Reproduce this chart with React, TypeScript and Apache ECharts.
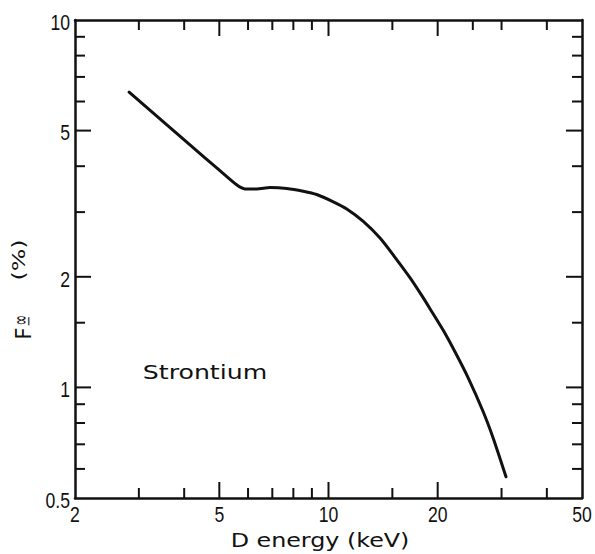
import React, { useEffect, useRef } from "react";
import * as echarts from "echarts";

// Axis ranges (log–log)
const X_MIN = 2;
const X_MAX = 50;
const Y_MIN = 0.5;
const Y_MAX = 10;

// Curve: deuteron energy (keV) vs F-infinity (%)
const energyKeV = [
  2.82, 4.15, 5.02, 5.58, 5.88, 6.34, 6.9, 7.67, 8.52, 9.28, 10.31, 11.23,
  12.47, 13.87, 15.25, 16.77, 18.07, 19.25, 20.72, 22.32, 24.29, 26.72, 28.47,
  30.86,
];
const fractionPct = [
  6.36, 4.57, 3.89, 3.56, 3.47, 3.47, 3.5, 3.48, 3.42, 3.35, 3.2, 3.06, 2.83,
  2.55, 2.26, 1.99, 1.78, 1.61, 1.43, 1.25, 1.06, 0.857, 0.726, 0.571,
];

// Tick labels
const xTickLabels = [2, 5, 10, 20, 50];
const yTickLabels = [0.5, 1, 2, 5, 10];

// Tick marks
const xMajorTicks = [5, 10, 20];
const xMinorTicksBottom = [3, 4, 6, 7, 8, 9, 15, 30, 40];
const xMinorTicksTop = [3, 4, 6, 7, 8, 9, 15, 25, 30, 40];
const yMajorTicks = [1, 2, 5];
const yMinorTicks = [0.6, 0.7, 0.8, 0.9, 1.5, 3, 4, 6, 7, 8, 9];

const INK = "#111111";
const LABEL_FONT = '"Liberation Sans", Arial, sans-serif';
const TITLE_FONT = '"DejaVu Sans", "Noto Sans", sans-serif';

const MAJOR_LEN = 16;
const MINOR_LEN = 10;
const LABEL_SIZE = 22;
const LABEL_SQUEEZE = 0.8;

function buildOption(): echarts.EChartsOption {
  // [x, y, side(0 = bottom/left, 1 = top/right), major flag]
  const xTickData: number[][] = [];
  xMajorTicks.forEach((v) => {
    xTickData.push([v, Y_MIN, 0, 1]);
    xTickData.push([v, Y_MIN, 1, 1]);
  });
  xMinorTicksBottom.forEach((v) => xTickData.push([v, Y_MIN, 0, 0]));
  xMinorTicksTop.forEach((v) => xTickData.push([v, Y_MIN, 1, 0]));

  const yTickData: number[][] = [];
  yMajorTicks.forEach((v) => {
    yTickData.push([X_MIN, v, 0, 1]);
    yTickData.push([X_MIN, v, 1, 1]);
  });
  yMinorTicks.forEach((v) => {
    yTickData.push([X_MIN, v, 0, 0]);
    yTickData.push([X_MIN, v, 1, 0]);
  });

  const curve = energyKeV.map((x, i) => [x, fractionPct[i]]);

  const baseAxis = {
    type: "log" as const,
    logBase: 10,
    axisLine: { show: true, onZero: false, lineStyle: { color: INK, width: 2.5 } },
    axisTick: { show: false },
    axisLabel: { show: false },
    splitLine: { show: false },
    minorTick: { show: false },
    minorSplitLine: { show: false },
  };

  return {
    animation: false,
    backgroundColor: "#ffffff",
    grid: {
      left: 75,
      right: 13,
      top: 20,
      bottom: 56,
      containLabel: false,
      outerBoundsMode: "none",
    } as any,
    xAxis: [
      { ...baseAxis, min: X_MIN, max: X_MAX, position: "bottom" },
      { ...baseAxis, min: X_MIN, max: X_MAX, position: "top" },
    ],
    yAxis: [
      { ...baseAxis, min: Y_MIN, max: Y_MAX, position: "left" },
      { ...baseAxis, min: Y_MIN, max: Y_MAX, position: "right" },
    ],
    series: [
      {
        type: "custom",
        name: "x ticks",
        silent: true,
        data: xTickData,
        encode: { x: 0, y: 1 },
        renderItem: (_params: any, api: any) => {
          const v = api.value(0);
          const onTop = api.value(2) === 1;
          const len = api.value(3) === 1 ? MAJOR_LEN : MINOR_LEN;
          const p = api.coord([v, onTop ? Y_MAX : Y_MIN]);
          const dir = onTop ? 1 : -1;
          return {
            type: "line",
            shape: { x1: p[0], y1: p[1], x2: p[0], y2: p[1] + dir * len },
            style: { stroke: INK, lineWidth: 2 },
          };
        },
      },
      {
        type: "custom",
        name: "y ticks",
        silent: true,
        data: yTickData,
        encode: { x: 0, y: 1 },
        renderItem: (_params: any, api: any) => {
          const v = api.value(1);
          const onRight = api.value(2) === 1;
          const len = api.value(3) === 1 ? MAJOR_LEN : MINOR_LEN;
          const p = api.coord([onRight ? X_MAX : X_MIN, v]);
          const dir = onRight ? -1 : 1;
          return {
            type: "line",
            shape: { x1: p[0], y1: p[1], x2: p[0] + dir * len, y2: p[1] },
            style: { stroke: INK, lineWidth: 2 },
          };
        },
      },
      {
        type: "custom",
        name: "x labels",
        silent: true,
        data: xTickLabels.map((v) => [v, Y_MIN]),
        encode: { x: 0, y: 1 },
        renderItem: (_params: any, api: any) => {
          const v = api.value(0);
          const p = api.coord([v, Y_MIN]);
          return {
            type: "text",
            x: p[0],
            y: p[1] + 5,
            scaleX: LABEL_SQUEEZE,
            style: {
              text: String(v),
              fill: INK,
              fontSize: LABEL_SIZE,
              fontFamily: LABEL_FONT,
              align: "center",
              verticalAlign: "top",
            },
          };
        },
      },
      {
        type: "custom",
        name: "y labels",
        silent: true,
        data: yTickLabels.map((v) => [X_MIN, v]),
        encode: { x: 0, y: 1 },
        renderItem: (_params: any, api: any) => {
          const v = api.value(1);
          const p = api.coord([X_MIN, v]);
          return {
            type: "text",
            x: p[0] - 5,
            y: p[1] + 2,
            scaleX: LABEL_SQUEEZE,
            style: {
              text: String(v),
              fill: INK,
              fontSize: LABEL_SIZE,
              fontFamily: LABEL_FONT,
              align: "right",
              verticalAlign: "middle",
            },
          };
        },
      },
      {
        type: "line",
        name: "Strontium",
        data: curve,
        showSymbol: false,
        symbol: "none",
        smooth: 0.25,
        lineStyle: { color: INK, width: 3, cap: "round", join: "round" },
        z: 5,
      },
    ],
    graphic: [
      {
        type: "text",
        x: 205,
        y: 372,
        scaleX: 1.26,
        style: {
          text: "Strontium",
          fill: INK,
          font: `20px ${TITLE_FONT}`,
          align: "center",
          verticalAlign: "middle",
        },
      },
      {
        type: "text",
        x: 320,
        y: 540,
        scaleX: 1.19,
        style: {
          text: "D energy (keV)",
          fill: INK,
          font: `20px ${TITLE_FONT}`,
          align: "center",
          verticalAlign: "middle",
        },
      },
      {
        type: "group",
        x: 23.5,
        y: 333.5,
        rotation: Math.PI / 2,
        children: [
          {
            type: "text",
            x: 0,
            y: 0,
            style: {
              text: "F",
              fill: INK,
              font: `21px ${TITLE_FONT}`,
              align: "center",
              verticalAlign: "middle",
            },
          },
          {
            type: "text",
            x: 13.5,
            y: -3,
            scaleY: 1.7,
            style: {
              text: "∞",
              fill: INK,
              font: `13px ${TITLE_FONT}`,
              align: "center",
              verticalAlign: "middle",
            },
          },
          {
            type: "text",
            x: 12.5,
            y: 5,
            style: {
              text: "−",
              fill: INK,
              font: `13px ${TITLE_FONT}`,
              align: "center",
              verticalAlign: "middle",
            },
          },
          {
            type: "text",
            x: 73.5,
            y: -4,
            scaleX: 1.4,
            style: {
              text: "(%)",
              fill: INK,
              font: `17px ${TITLE_FONT}`,
              align: "center",
              verticalAlign: "middle",
            },
          },
        ],
      },
    ],
  };
}

export default function App() {
  const ref = useRef<HTMLDivElement>(null);

  useEffect(() => {
    if (!ref.current) return;
    const chart = echarts.init(ref.current, null, { renderer: "svg" });
    chart.setOption(buildOption());
    return () => chart.dispose();
  }, []);

  return (
    <div
      ref={ref}
      style={{
        position: "fixed",
        left: 0,
        top: 0,
        width: 595,
        height: 554,
        background: "#ffffff",
      }}
    />
  );
}
